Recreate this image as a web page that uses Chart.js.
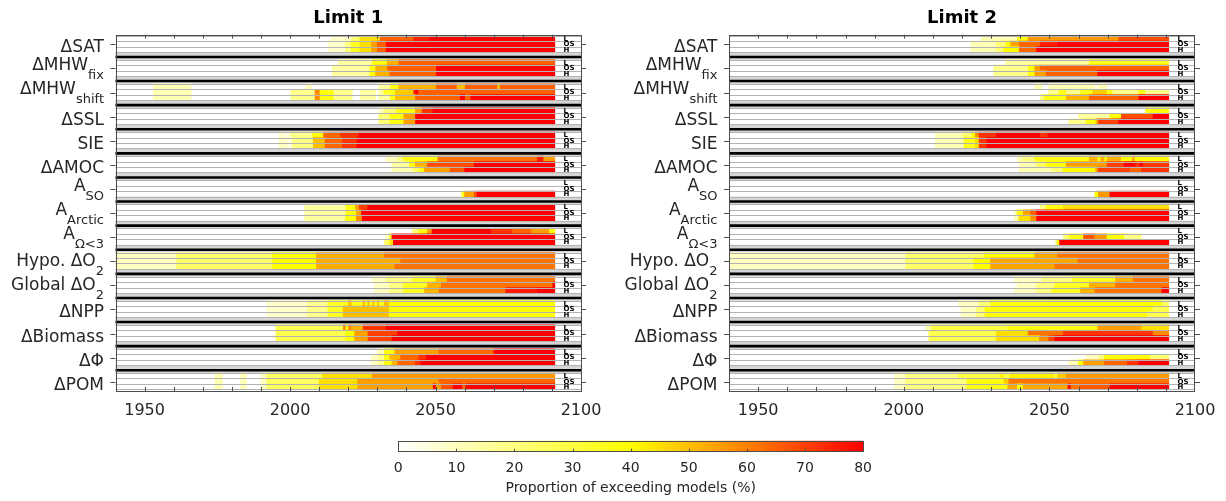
<!DOCTYPE html>
<html>
<head>
<meta charset="utf-8">
<script src="https://cdn.jsdelivr.net/npm/chart.js@4.4.1/dist/chart.umd.min.js"></script>
<style>
  html, body { margin: 0; padding: 0; background: #fff; }
  body { width: 1226px; height: 501px; position: relative; overflow: hidden; }
  .box { position: absolute; }
  #p1 { left: 0; top: 0; width: 613px; height: 425px; }
  #p2 { left: 613px; top: 0; width: 613px; height: 425px; }
  #cb { left: 380px; top: 425px; width: 500px; height: 76px; }
</style>
</head>
<body>
<div class="box" id="p1"><canvas id="c1"></canvas></div>
<div class="box" id="p2"><canvas id="c2"></canvas></div>
<div class="box" id="cb"><canvas id="c3"></canvas></div>
<script>
// ---------------------------------------------------------------------------
// Data: for every indicator three rows (L, OS, H); each row is a list of
// change points  [startYear, percent, startYear, percent, ...]; a value holds
// until the next start year (the last one until END_YEAR). 0 = no exceedance.
// ---------------------------------------------------------------------------
const END_YEAR = 2091;
const panelTitles = ['Limit 1', 'Limit 2'];
const varNames = ['ΔSAT', 'ΔMHW', 'ΔMHW', 'ΔSSL', 'SIE', 'ΔAMOC', 'A', 'A', 'A',
                  'Hypo. ΔO', 'Global ΔO', 'ΔNPP', 'ΔBiomass', 'ΔΦ', 'ΔPOM'];
const varSubs = ['', 'fix', 'shift', '', '', '', 'SO', 'Arctic', 'Ω<3', '2', '2', '', '', '', ''];
const scenarios = ['L', 'OS', 'H'];
const yearTicks = [1950, 2000, 2050, 2100];
const colorbarTicks = [0, 10, 20, 30, 40, 50, 60, 70, 80];

// ----- Limit 1 -----
const L1_SAT = [
  [2014, 8, 2021, 22, 2024, 45, 2031, 65, 2042.5, 75, 2048.2, 85],
  [2013, 8, 2019, 20, 2021, 35, 2024, 45, 2028, 55, 2030, 65, 2033, 85],
  [2013, 8, 2019, 20, 2021, 35, 2024, 45, 2028, 55, 2030, 65, 2033, 85]];
const L1_MHWfix = [
  [2016.5, 15, 2028.2, 38, 2033.4, 52, 2037.4, 65],
  [2014.5, 15, 2027.4, 38, 2029.4, 52, 2033.5, 65, 2050.3, 85],
  [2014.5, 15, 2027.4, 38, 2029.4, 52, 2034.3, 65, 2050.3, 85]];
const L1_MHWshift = [
  [1953, 12, 1966, 0, 2005.4, 10, 2007.4, 0, 2030.5, 15, 2034.5, 38, 2037.4, 52, 2050.3, 65, 2057.4, 50, 2060.2, 65, 2071.3, 50, 2072.2, 65],
  [1953, 12, 1966, 0, 2000.3, 18, 2008.6, 58, 2010.3, 38, 2015.1, 18, 2021.4, 0, 2024.2, 15, 2029.4, 0, 2030.5, 15, 2032.2, 35, 2036.2, 48, 2042.5, 75, 2043.2, 85, 2044.2, 65],
  [1953, 12, 1966, 0, 2000.3, 18, 2008.6, 58, 2010.3, 38, 2015.1, 18, 2021.4, 0, 2024.2, 15, 2029.4, 0, 2030.5, 15, 2034.5, 38, 2036.2, 50, 2043.1, 65, 2058.5, 85, 2060.2, 65, 2062.1, 85]];
const L1_SSL = [
  [2030.5, 10, 2032.2, 22, 2036.6, 38, 2043.1, 55, 2045.4, 72, 2049.1, 85],
  [2030.5, 22, 2034.3, 38, 2039.1, 55, 2043.1, 85],
  [2030.5, 22, 2034.3, 38, 2039.1, 55, 2043.1, 85]];
const L1_SIE = [
  [1996.2, 10, 1997.5, 6, 2000, 18, 2007.7, 38, 2011.5, 64, 2017.4, 72, 2023.7, 85],
  [1996.2, 10, 1999, 6, 2000.8, 20, 2008, 50, 2012, 64, 2018, 72, 2023, 85],
  [1996.2, 10, 1999, 6, 2000.8, 20, 2008, 50, 2012, 64, 2018, 72, 2023, 85]];
const L1_AMOC = [
  [2033, 10, 2037, 20, 2039, 38, 2050.8, 62, 2085, 75, 2087.2, 55],
  [2035, 15, 2041, 38, 2043, 52, 2047.2, 68, 2063.3, 85],
  [2035, 12, 2042.2, 25, 2044.6, 38, 2046.2, 55, 2055, 66, 2060, 85]];
const L1_ASO = [
  [],
  [],
  [2059, 38, 2060, 55, 2063.3, 68, 2064.3, 85]];
const L1_AArctic = [
  [2005, 15, 2019.2, 38, 2022.5, 55, 2023.8, 70, 2026.7, 85],
  [2005, 15, 2019.2, 38, 2022.8, 55, 2024.5, 85],
  [2005, 15, 2019, 38, 2022.8, 58, 2024.8, 85]];
const L1_AOmega = [
  [2042, 20, 2044.2, 38, 2047.2, 55, 2048.8, 85, 2069.2, 72, 2076.4, 64, 2083, 55, 2089.2, 40],
  [2033, 12, 2034.3, 40, 2035, 85],
  [2032.5, 25, 2034.3, 45, 2035.5, 85]];
const L1_HypoO2 = [
  [1940, 10, 1961, 24, 1994, 40, 2009, 53, 2032.4, 62],
  [1940, 10, 1961, 24, 1994, 40, 2009, 53, 2038, 62],
  [1940, 10, 1961, 24, 1994, 40, 2009, 53, 2036, 62]];
const L1_GlobalO2 = [
  [2028.2, 10, 2033, 20, 2042.2, 35, 2050.1, 50, 2054, 62],
  [2029, 10, 2034.3, 20, 2039, 35, 2047.2, 52, 2052, 62, 2090.3, 85],
  [2029, 10, 2034.3, 20, 2039, 35, 2046.2, 52, 2051.2, 62, 2074.1, 76, 2085, 85]];
const L1_NPP = [
  [1992, 8, 2006, 18, 2013, 34, 2020.1, 50, 2021.2, 36, 2025.1, 50, 2025.9, 36, 2026.7, 50, 2027.5, 36, 2028.4, 50, 2029.1, 36, 2030.1, 50, 2030.7, 36, 2032.4, 50, 2034.1, 40],
  [1992, 8, 2006, 18, 2013, 34, 2018.2, 50, 2034.1, 40],
  [1992, 8, 2006, 18, 2013, 34, 2018.2, 50, 2034.1, 40]];
const L1_Biomass = [
  [1995.1, 28, 2018.3, 58, 2019.2, 38, 2020.1, 58, 2021.2, 52, 2025.1, 72, 2033, 85],
  [1995.1, 28, 2019.2, 40, 2022.2, 55, 2026.8, 70, 2037, 85],
  [1995.1, 28, 2019.2, 40, 2022.2, 55, 2026.8, 70, 2035, 85]];
const L1_Phi = [
  [2030, 12, 2032.4, 38, 2036, 55, 2051.2, 64, 2070.1, 85],
  [2028, 10, 2030.4, 18, 2032.4, 38, 2034.3, 52, 2038, 64, 2044.2, 72, 2046.8, 85],
  [2028, 10, 2030.4, 18, 2032.4, 38, 2035, 52, 2037, 64, 2043, 72, 2045, 85]];
const L1_POM = [
  [1974.1, 12, 1976.8, 0, 1983, 12, 1985, 0, 1990, 10, 1992, 25, 2011, 45, 2028.2, 56],
  [1974.1, 12, 1976.8, 0, 1983, 12, 1985, 0, 1990, 10, 1992, 25, 2010, 45, 2023.2, 55, 2051.2, 64],
  [1974.1, 12, 1976.8, 0, 1983, 12, 1985, 0, 1990, 10, 1992, 25, 2010, 45, 2023.2, 55, 2049.2, 80, 2050.2, 55, 2052, 68, 2056, 85, 2059.3, 64, 2060.4, 85]];

// ----- Limit 2 -----
const L2_SAT = [
  [2026.6, 12, 2039, 40, 2042.7, 56, 2073.8, 68],
  [2023, 12, 2031.8, 22, 2035.1, 40, 2036.7, 55, 2039.7, 64, 2046.9, 75, 2052.8, 85],
  [2023, 12, 2031.8, 22, 2034.4, 40, 2039.7, 64, 2045.6, 85]];
const L2_MHWfix = [
  [2035, 15, 2063.7, 36],
  [2030.9, 18, 2042.7, 38, 2045, 55, 2046.9, 65],
  [2030.9, 18, 2042.7, 38, 2045, 55, 2048.9, 65, 2066.6, 85]];
const L2_MHWshift = [
  [2044.9, 12, 2047.5, 0, 2049.8, 12, 2065.6, 0, 2066.6, 12, 2069.8, 0],
  [2049.8, 18, 2053.4, 36, 2055.8, 18, 2060.7, 36, 2064.9, 48, 2069.8, 36, 2071.8, 18, 2080.7, 36, 2083, 18],
  [2046.9, 20, 2048.2, 38, 2055.8, 52, 2063.7, 65, 2080.7, 85]];
const L2_SSL = [
  [2083, 38],
  [2060, 15, 2070.8, 38, 2074.7, 68, 2085.6, 85],
  [2056.7, 18, 2062.6, 38, 2066, 52, 2066.8, 70, 2073.8, 85]];
const L2_SIE = [
  [2010.8, 12, 2020, 22, 2023.3, 40, 2024.6, 58, 2025.9, 72, 2031.8, 82, 2046.9, 72, 2049.5, 85],
  [2010.8, 12, 2020.7, 36, 2024.5, 45, 2025.9, 72, 2028.5, 85],
  [2010.8, 12, 2020.7, 36, 2024.5, 45, 2025.9, 72, 2028.5, 85]];
const L2_AMOC = [
  [2039, 12, 2041, 20, 2045, 38, 2063.7, 52, 2066.6, 40, 2067.6, 52, 2069, 40, 2069.8, 52, 2074.7, 40, 2078.4, 52, 2079.5, 40],
  [2039.7, 12, 2045.6, 25, 2048.9, 40, 2055.8, 55, 2069.8, 70, 2075.7, 80, 2079.7, 72, 2081, 80, 2082.3, 72],
  [2039.7, 12, 2050.8, 22, 2054.8, 40, 2065.9, 55, 2066.8, 70, 2077.7, 64, 2081.6, 72]];
const L2_ASO = [
  [],
  [],
  [2065.6, 40, 2066.8, 56, 2070.8, 85]];
const L2_AArctic = [
  [2046.9, 20, 2048.9, 38, 2054.8, 45],
  [2038, 12, 2038.9, 40, 2041, 55, 2043.6, 66, 2045.6, 85],
  [2038, 12, 2039.5, 45, 2043.6, 58, 2045.6, 85]];
const L2_AOmega = [
  [],
  [2054.8, 22, 2056.8, 38, 2061.7, 66, 2065.6, 56, 2069.8, 40, 2075.7, 20, 2081.6, 0],
  [2051.9, 12, 2052.6, 40, 2053.5, 85]];
const L2_HypoO2 = [
  [1940, 10, 2000.7, 24, 2027.6, 40, 2045, 54, 2052.8, 62],
  [1940, 10, 2000.7, 24, 2024, 40, 2029.8, 54, 2059.7, 62],
  [1940, 10, 2000.7, 24, 2024, 40, 2029.8, 54, 2051.9, 62]];
const L2_GlobalO2 = [
  [2038, 10, 2047.5, 20, 2057.8, 35, 2072.7, 52, 2078.8, 62],
  [2039, 10, 2045.6, 20, 2051.9, 35, 2063.7, 52, 2072.7, 62],
  [2038, 10, 2045.6, 20, 2050.8, 35, 2060.7, 52, 2065.6, 62, 2088.6, 85]];
const L2_NPP = [
  [2018.7, 10, 2025.9, 22, 2029.8, 38, 2048.9, 40, 2088.6, 25],
  [2019.7, 10, 2024.9, 22, 2027.9, 40, 2085.6, 28],
  [2019.7, 10, 2024.9, 22, 2027.9, 40, 2083.6, 28]];
const L2_Biomass = [
  [2007.5, 12, 2009.5, 30, 2035.7, 38, 2066.6, 55, 2081.6, 45],
  [2008.6, 28, 2031.8, 45, 2042.7, 62, 2054.8, 72, 2085.6, 58],
  [2008.6, 28, 2031.8, 45, 2046.6, 58, 2049.8, 70, 2051.9, 85]];
const L2_Phi = [
  [],
  [2062.6, 10, 2067, 20, 2068.9, 38, 2084.7, 22],
  [2056.7, 12, 2060, 40, 2061.7, 55, 2068.9, 64, 2076.8, 72, 2080.7, 85]];
const L2_POM = [
  [1996.8, 10, 2000.7, 20, 2018.7, 30, 2032.9, 42, 2034.4, 30, 2036.4, 42, 2051.9, 30, 2052.8, 48, 2055.8, 56],
  [1996.8, 10, 2000.7, 20, 2021.7, 38, 2034.4, 48, 2036.1, 62],
  [1996.8, 10, 2000.7, 20, 2021.7, 38, 2035.7, 54, 2039, 40, 2041, 54, 2056.4, 85, 2057.4, 62, 2060.7, 66, 2070.8, 85]];

const panel1 = [L1_SAT, L1_MHWfix, L1_MHWshift, L1_SSL, L1_SIE, L1_AMOC, L1_ASO, L1_AArctic,
                L1_AOmega, L1_HypoO2, L1_GlobalO2, L1_NPP, L1_Biomass, L1_Phi, L1_POM];
const panel2 = [L2_SAT, L2_MHWfix, L2_MHWshift, L2_SSL, L2_SIE, L2_AMOC, L2_ASO, L2_AArctic,
                L2_AOmega, L2_HypoO2, L2_GlobalO2, L2_NPP, L2_Biomass, L2_Phi, L2_POM];

// ---------------------------------------------------------------------------
// Layout of the row grid, in "group" units on the y scale (one group = 1)
// ---------------------------------------------------------------------------
const ROW = 0.226;        // height of one scenario row
const TICK_POS = 0.36;    // y tick / label position inside a group
const SEP_POS = 0.883;    // thick separator between groups
const Y_MIN = -0.04, Y_MAX = 14.745;
const FONT = '"DejaVu Sans", "Liberation Sans", sans-serif';
const TXT = '#262626';

// white -> yellow (40 %) -> red (80 %)
function heatColor(v) {
  v = Math.max(0, Math.min(80, v));
  if (v <= 40) return `rgb(255,255,${Math.round(255 * (1 - v / 40))})`;
  return `rgb(255,${Math.round(255 * (1 - (v - 40) / 40))},0)`;
}

function buildSegments(groups) {
  const pts = [], cols = [];
  groups.forEach((grp, g) => grp.forEach((row, k) => {
    for (let i = 0; i < row.length; i += 2) {
      const start = row[i], val = row[i + 1];
      const stop = i + 2 < row.length ? row[i + 2] : END_YEAR;
      if (val <= 0) continue;
      pts.push({ x: [start, stop], y: g + (k + 0.5) * ROW });
      cols.push(heatColor(val));
    }
  }));
  return { pts, cols };
}

const crisp = v => Math.round(v) + 0.5;

const panelDecor = {
  id: 'panelDecor',
  beforeDatasetsDraw(chart) {
    const { ctx, chartArea: a, scales: { y } } = chart;
    ctx.save();
    ctx.fillStyle = '#d5d5d5';
    for (let g = 0; g < varNames.length - 1; g++) {
      const t = y.getPixelForValue(g + 3 * ROW), b = y.getPixelForValue(g + 1);
      ctx.fillRect(a.left, t, a.right - a.left, b - t);
    }
    ctx.restore();
  },
  afterDatasetsDraw(chart) {
    const { ctx, chartArea: a, scales: { y } } = chart;
    ctx.save();
    ctx.strokeStyle = '#b3b3b3';
    ctx.lineWidth = 1;
    for (let g = 0; g < varNames.length; g++) {
      for (let k = 0; k <= 3; k++) {
        const p = crisp(y.getPixelForValue(g + k * ROW));
        ctx.beginPath(); ctx.moveTo(a.left, p); ctx.lineTo(a.right, p); ctx.stroke();
      }
    }
    ctx.strokeStyle = '#000';
    ctx.lineWidth = 2.6;
    for (let g = 0; g < varNames.length - 1; g++) {
      const p = y.getPixelForValue(g + SEP_POS);
      ctx.beginPath(); ctx.moveTo(a.left, p); ctx.lineTo(a.right, p); ctx.stroke();
    }
    ctx.restore();
  },
  afterDraw(chart) {
    const { ctx, chartArea: a, scales: { x, y } } = chart;
    const title = chart.options.plugins.panelDecor.title;
    ctx.save();
    // frame
    ctx.strokeStyle = '#4d4d4d';
    ctx.lineWidth = 1;
    ctx.strokeRect(crisp(a.left), crisp(a.top), Math.round(a.right - a.left) - 1, Math.round(a.bottom - a.top));
    // year ticks, pointing inwards on top and bottom
    x.ticks.forEach(t => {
      if (t.value <= x.min || t.value >= x.max) return;
      const p = crisp(x.getPixelForValue(t.value));
      ctx.beginPath();
      ctx.moveTo(p, a.bottom); ctx.lineTo(p, a.bottom - 4);
      ctx.moveTo(p, a.top); ctx.lineTo(p, a.top + 4);
      ctx.stroke();
    });
    // indicator ticks on both sides
    for (let g = 0; g < varNames.length; g++) {
      const p = crisp(y.getPixelForValue(g + TICK_POS));
      ctx.beginPath();
      ctx.moveTo(a.left - 5, p); ctx.lineTo(a.left, p);
      ctx.moveTo(a.right, p); ctx.lineTo(a.right + 5, p);
      ctx.stroke();
    }
    // scenario tags
    ctx.fillStyle = '#000';
    ctx.font = 'bold 7px ' + FONT;
    ctx.textAlign = 'left';
    ctx.textBaseline = 'middle';
    const tx = x.getPixelForValue(2094);
    for (let g = 0; g < varNames.length; g++) {
      scenarios.forEach((s, k) => ctx.fillText(s, tx, y.getPixelForValue(g + (k + 0.5) * ROW) + 0.5));
    }
    // indicator labels with subscripts
    ctx.fillStyle = TXT;
    ctx.textBaseline = 'alphabetic';
    const right = a.left - 11.5;
    varNames.forEach((name, g) => {
      const sub = varSubs[g];
      const tick = y.getPixelForValue(g + TICK_POS);
      ctx.font = '17px ' + FONT;
      const wMain = ctx.measureText(name).width;
      ctx.font = '13px ' + FONT;
      const wSub = sub ? ctx.measureText(sub).width : 0;
      let base;
      if (!sub) base = tick + 8;
      else if (sub === '2') base = tick + 4.5;
      else base = tick + 1.8;
      ctx.font = '17px ' + FONT;
      ctx.textAlign = 'left';
      ctx.fillText(name, right - wSub - wMain, base);
      if (sub) {
        ctx.font = '13px ' + FONT;
        ctx.fillText(sub, right - wSub, base + 9);
      }
    });
    // panel title
    ctx.font = 'bold 18px ' + FONT;
    ctx.fillStyle = '#000';
    ctx.textAlign = 'center';
    ctx.textBaseline = 'middle';
    ctx.fillText(title, (a.left + a.right) / 2, 18);
    ctx.restore();
  }
};

function makePanel(canvasId, groups, title, leftW, rightW) {
  const seg = buildSegments(groups);
  return new Chart(document.getElementById(canvasId), {
    type: 'bar',
    data: {
      datasets: [{
        data: seg.pts,
        backgroundColor: seg.cols,
        borderWidth: 0,
        barThickness: 5.6,
        grouped: false
      }]
    },
    options: {
      indexAxis: 'y',
      responsive: true,
      maintainAspectRatio: false,
      animation: false,
      events: [],
      layout: { padding: { top: 34.7, left: 0, right: 0, bottom: 0 } },
      scales: {
        x: {
          type: 'linear', min: 1940, max: 2100, position: 'bottom',
          afterFit(s) { s.height = 34; },
          grid: { display: false, drawTicks: false },
          border: { display: false },
          ticks: {
            stepSize: 10, autoSkip: false, maxRotation: 0, padding: 10,
            color: TXT, font: { size: 16, family: FONT },
            callback: v => yearTicks.includes(v) ? String(v) : ''
          }
        },
        y: {
          type: 'linear', min: Y_MIN, max: Y_MAX, reverse: true, position: 'left', offset: false,
          afterFit(s) { s.width = leftW; },
          ticks: { display: false }, grid: { display: false, offset: false }, border: { display: false }
        },
        yR: {
          type: 'linear', min: Y_MIN, max: Y_MAX, reverse: true, position: 'right', offset: false,
          afterFit(s) { s.width = rightW; },
          ticks: { display: false }, grid: { display: false, offset: false }, border: { display: false }
        }
      },
      plugins: { legend: { display: false }, tooltip: { enabled: false }, panelDecor: { title } }
    },
    plugins: [panelDecor]
  });
}

makePanel('c1', panel1, panelTitles[0], 115.5, 32);
makePanel('c2', panel2, panelTitles[1], 116, 31);

// ---------------------------------------------------------------------------
// Colour bar
// ---------------------------------------------------------------------------
const cbPts = [], cbCols = [];
for (let i = 0; i < 160; i++) {
  const a = i * 0.5;
  cbPts.push({ x: [a, a + 0.5], y: 'scale' });
  cbCols.push(heatColor(a + 0.25));
}

const cbDecor = {
  id: 'cbDecor',
  afterDraw(chart) {
    const { ctx, chartArea: a, scales: { x } } = chart;
    ctx.save();
    ctx.strokeStyle = '#4d4d4d';
    ctx.lineWidth = 1;
    x.ticks.forEach(t => {
      if (t.value <= x.min || t.value >= x.max) return;
      const p = crisp(x.getPixelForValue(t.value));
      ctx.beginPath(); ctx.moveTo(p, a.bottom); ctx.lineTo(p, a.bottom - 3); ctx.stroke();
    });
    ctx.strokeRect(crisp(a.left), crisp(a.top), Math.round(a.right - a.left), Math.round(a.bottom - a.top) - 1);
    ctx.restore();
  }
};

new Chart(document.getElementById('c3'), {
  type: 'bar',
  data: {
    labels: ['scale'],
    datasets: [{ data: cbPts, backgroundColor: cbCols, borderWidth: 0, barPercentage: 1, categoryPercentage: 1, grouped: false }]
  },
  options: {
    indexAxis: 'y',
    responsive: true,
    maintainAspectRatio: false,
    animation: false,
    events: [],
    layout: { padding: { top: 15.7, left: 18.3, right: 15, bottom: 0 } },
    scales: {
      x: {
        type: 'linear', min: 0, max: 80,
        afterFit(s) { s.height = 49.3; },
        grid: { display: false, drawTicks: false },
        border: { display: false },
        ticks: { stepSize: 10, autoSkip: false, maxRotation: 0, padding: 8, color: TXT, font: { size: 14, family: FONT },
                 callback: v => colorbarTicks.includes(v) ? String(v) : '' },
        title: { display: true, text: 'Proportion of exceeding models (%)', color: TXT,
                 font: { size: 14, family: FONT }, padding: { top: 0, bottom: 4.6 } }
      },
      y: { type: 'category', display: false }
    },
    plugins: { legend: { display: false }, tooltip: { enabled: false } }
  },
  plugins: [cbDecor]
});
</script>
</body>
</html>
